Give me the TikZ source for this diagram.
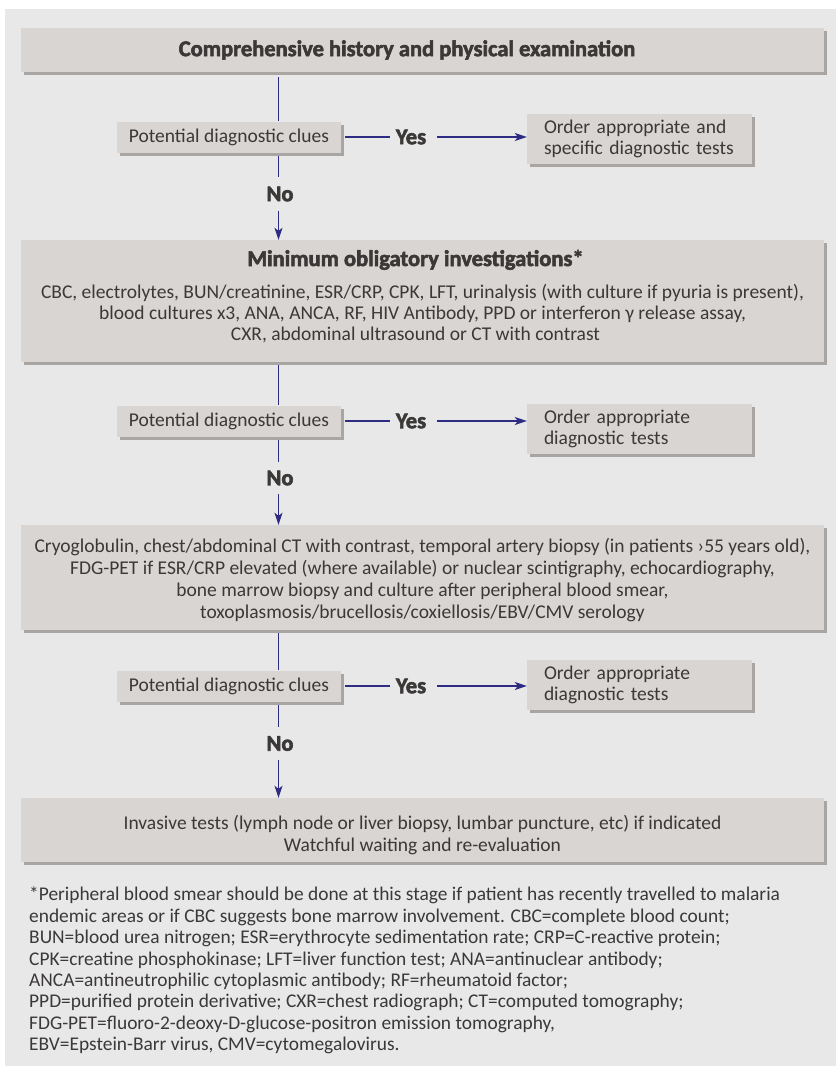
\documentclass[tikz,border=0pt]{standalone}
\usepackage{fontspec}
\setmainfont{Carlito}[BoldFeatures={FakeBold=2.5}]
\usetikzlibrary{arrows.meta,shadows}
\definecolor{bgc}{HTML}{E8E8E8}
\definecolor{boxc}{HTML}{D9D5D2}
\definecolor{shc}{HTML}{A9A5A3}
\definecolor{navy}{HTML}{2D2B82}
\definecolor{txt}{HTML}{3B3838}
\tikzset{
  box/.style={fill=boxc, inner sep=0pt, text=txt,
    drop shadow={shadow xshift=3pt, shadow yshift=-3pt, fill=shc, opacity=1}},
  bodyfont/.style={font=\fontsize{19.5}{20.5}\selectfont},
  bigbox/.style={box, bodyfont, minimum width=803pt, align=center},
  clue/.style={box, bodyfont, minimum width=224pt, minimum height=31pt},
  order/.style={box, bodyfont, text width=200pt, inner xsep=12.5pt, minimum height=50pt, align=left},
  lab/.style={text=txt, font=\fontsize{22.5}{23}\selectfont\bfseries, inner sep=0pt},
  conn/.style={draw=navy, line width=1.5pt},
  arr/.style={conn, -{Stealth[length=12pt,width=8pt,inset=3pt]}}
}
\newcommand{\ind}{\hspace*{4.5pt}}
\newcommand{\topst}[1]{\rule{0pt}{#1}}
\newcommand{\botst}[1]{\rule[-#1]{0pt}{#1}}
\begin{document}
\begin{tikzpicture}[x=1pt,y=-1pt]
\useasboundingbox (0,0) rectangle (836,1066);
\fill[bgc] (5,9) rectangle (836,1066);
\coordinate (X) at (278.5,0);

% boxes
\node[bigbox, minimum height=44pt, font=\fontsize{22.5}{23}\selectfont\bfseries] (n0) at (422.5,50) {\hspace*{-31pt}Comprehensive history and physical examination};

\node[clue] (p1) at (229,137) {Potential diagnostic clues};
\node[order] (o1) at (639.5,139) {\ind Order appropriate and\\\ind specific diagnostic tests};
\node[lab] (y1) at (411,137) {Yes};
\node[lab, minimum height=33pt] (no1) at (280,194) {No};

\node[bigbox, minimum height=122pt, font=\fontsize{19.5}{21}\selectfont] (n1) at (422.5,301) {\topst{20pt}{\fontsize{22.5}{23}\selectfont\bfseries Minimum obligatory investigations*}\hspace*{14pt}\\[11pt]
CBC, electrolytes, BUN/creatinine, ESR/CRP, CPK, LFT, urinalysis (with culture if pyuria is present),\hspace*{48pt}\\
blood cultures x3, ANA, ANCA, RF, HIV Antibody, PPD or interferon γ release assay,\hspace*{32pt}\\
CXR, abdominal ultrasound or CT with contrast\hspace*{14pt}\botst{16pt}};

\node[clue] (p2) at (229,421) {Potential diagnostic clues};
\node[order] (o2) at (639.5,429) {\ind Order appropriate\\\ind diagnostic tests};
\node[lab] (y2) at (411,421) {Yes};
\node[lab, minimum height=32pt] (no2) at (280,478) {No};

\node[bigbox, minimum height=105pt, font=\fontsize{19.5}{21.7}\selectfont] (n2) at (422.5,577.5) {\topst{26pt}Cryoglobulin, chest/abdominal CT with contrast, temporal artery biopsy (in patients ›55 years old),\\
FDG-PET if ESR/CRP elevated (where available) or nuclear scintigraphy, echocardiography,\\
bone marrow biopsy and culture after peripheral blood smear,\\
toxoplasmosis/brucellosis/coxiellosis/EBV/CMV serology\botst{10pt}};

\node[clue] (p3) at (229,686) {Potential diagnostic clues};
\node[order] (o3) at (639.5,685) {\ind Order appropriate\\\ind diagnostic tests};
\node[lab] (y3) at (411,686) {Yes};
\node[lab, minimum height=33pt] (no3) at (280,743.5) {No};

\node[bigbox, minimum height=64pt, font=\fontsize{19.5}{22}\selectfont] (n3) at (422.5,830) {\topst{30pt}Invasive tests (lymph node or liver biopsy, lumbar puncture, etc) if indicated\\
Watchful waiting and re-evaluation\botst{10pt}};

\node[text=txt, anchor=north west, inner sep=0pt, align=left, font=\fontsize{19.4}{21.4}\selectfont] (fn) at (29,887) {*Peripheral blood smear should be done at this stage if patient has recently travelled to malaria\\
endemic areas or if CBC suggests bone marrow involvement. CBC=complete blood count;\\
BUN=blood urea nitrogen; ESR=erythrocyte sedimentation rate; CRP=C-reactive protein;\\
CPK=creatine phosphokinase; LFT=liver function test; ANA=antinuclear antibody;\\
ANCA=antineutrophilic cytoplasmic antibody; RF=rheumatoid factor;\\
PPD=purified protein derivative; CXR=chest radiograph; CT=computed tomography;\\
FDG-PET=fluoro-2-deoxy-D-glucose-positron emission tomography,\\
EBV=Epstein-Barr virus, CMV=cytomegalovirus.};

% connectors
\draw[conn, shorten <=5pt] (n0.south -| X) -- (p1.north -| X);
\draw[conn, shorten <=3pt] (p1.south -| X) -- (no1.north -| X);
\draw[arr] (no1.south -| X) -- (n1.north -| X);
\draw[conn, shorten <=4pt] (p1.east) -- ([xshift=-6pt]y1.west);
\draw[arr] ([xshift=11pt]y1.east) -- (o1.west |- y1);

\draw[conn, shorten <=3pt] (n1.south -| X) -- (p2.north -| X);
\draw[conn, shorten <=3pt] (p2.south -| X) -- (no2.north -| X);
\draw[arr] (no2.south -| X) -- (n2.north -| X);
\draw[conn, shorten <=4pt] (p2.east) -- ([xshift=-6pt]y2.west);
\draw[arr] ([xshift=11pt]y2.east) -- (o2.west |- y2);

\draw[conn, shorten <=3pt] (n2.south -| X) -- (p3.north -| X);
\draw[conn, shorten <=3pt] (p3.south -| X) -- (no3.north -| X);
\draw[arr] (no3.south -| X) -- (n3.north -| X);
\draw[conn, shorten <=4pt] (p3.east) -- ([xshift=-6pt]y3.west);
\draw[arr] ([xshift=11pt]y3.east) -- (o3.west |- y3);
\end{tikzpicture}
\end{document}
